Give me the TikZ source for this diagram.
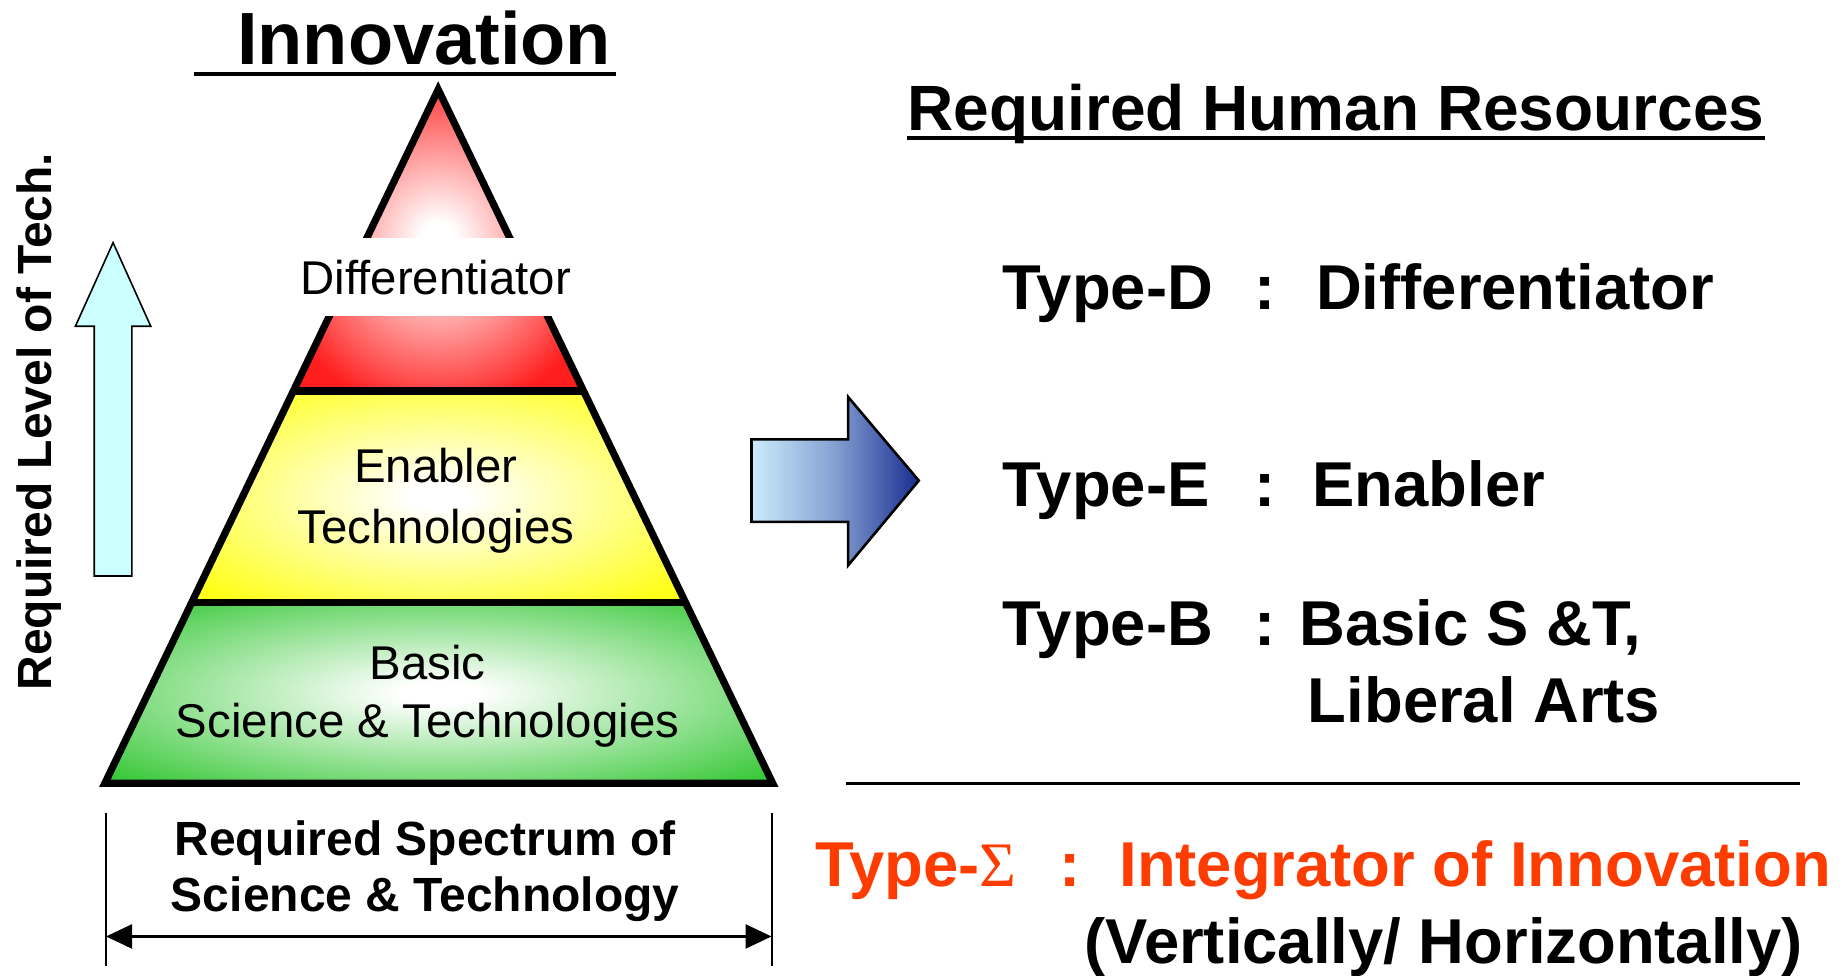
\documentclass[tikz,border=0pt]{standalone}
\usepackage{fontspec}
\setmainfont{Liberation Sans}
\newfontfamily\sigmafont{Liberation Serif}
\usetikzlibrary{arrows.meta,calc}

\definecolor{layerred}{RGB}{255,30,30}
\definecolor{layeryellow}{RGB}{255,255,25}
\definecolor{layergreen}{RGB}{55,200,55}
\definecolor{riseblue}{RGB}{204,255,255}
\definecolor{pushlight}{RGB}{204,236,252}
\definecolor{pushdark}{RGB}{25,45,145}
\definecolor{sigmared}{RGB}{255,60,0}

\pgfdeclareradialshading{redglow}{\pgfpoint{0bp}{0bp}}{color(0bp)=(white); color(3bp)=(white); color(29bp)=(layerred); color(50bp)=(layerred)}
\pgfdeclareradialshading{yellowglow}{\pgfpoint{0bp}{0bp}}{color(0bp)=(white); color(3bp)=(white); color(32bp)=(layeryellow); color(50bp)=(layeryellow)}
\pgfdeclareradialshading{greenglow}{\pgfpoint{0bp}{0bp}}{color(0bp)=(white); color(3bp)=(white); color(34bp)=(layergreen); color(50bp)=(layergreen)}

\tikzset{
	outline/.style={line width=3.6pt},
	layertext/.style={font=\fontsize{23.7}{28}\selectfont, anchor=base, inner sep=0pt},
	heavytext/.style={font=\fontsize{24}{28}\selectfont\bfseries, anchor=base, inner sep=0pt},
	typetext/.style={font=\fontsize{31.7}{38}\selectfont\bfseries, anchor=base west, inner sep=0pt}
}

\begin{document}
\begin{tikzpicture}[x=0.589pt,y=-0.589pt]
		\useasboundingbox (0,0) rectangle (1568,828);
		% pyramid
		\coordinate (apex) at (372,76);
		\coordinate (bl) at (89,665);
		\coordinate (br) at (656,665);
		\coordinate (rl) at ($(apex)!0.4346!(bl)$);
		\coordinate (rr) at ($(apex)!0.4346!(br)$);
		\coordinate (yl) at ($(apex)!0.7394!(bl)$);
		\coordinate (yr) at ($(apex)!0.7394!(br)$);
		\shade[shading=redglow] (apex) -- (rr) -- (rl) -- cycle;
		\shade[shading=yellowglow] (rl) -- (rr) -- (yr) -- (yl) -- cycle;
		\shade[shading=greenglow] (yl) -- (yr) -- (br) -- (bl) -- cycle;
		\draw[outline] (apex) -- (br) -- (bl) -- cycle;
		\draw[outline] (rl) -- (rr);
		\draw[outline] (yl) -- (yr);
		\node[fill=white, inner sep=0pt, minimum width=147pt, minimum height=39pt] (band) at (370,235) {};
		\node[layertext] (differentiator) at (370,250) {Differentiator};
		\node[layertext] (enabler) at (370,410) {Enabler};
		\node[layertext] (enablertech) at (370,461) {Technologies};
		\node[layertext] (basic) at (363,577) {Basic};
		\node[layertext] (basicsci) at (363,626) {Science \& Technologies};
		% title
		\node[font=\fontsize{37}{44}\selectfont\bfseries, anchor=base, inner sep=0pt] (innovation) at (360,55) {Innovation};
		\draw[line width=2pt] ($(innovation.base west)+(-36,8)$) -- ($(innovation.base east)+(4,8)$);
		% level of tech
		\draw[line width=0.8pt, fill=riseblue] (80,489) -- (80,277) -- (64,277) -- (96,206) -- (128,277) -- (112,277) -- (112,489) -- cycle;
		\node[heavytext, rotate=90] (levellabel) at (44,358) {Required Level of Tech.};
		% spectrum
		\coordinate (specl) at (90,795);
		\coordinate (specr) at (655,795);
		\draw[line width=1pt] (90,690) -- (90,820);
		\draw[line width=1pt] (655,690) -- (655,820);
		\draw[line width=1.2pt, {Triangle[length=13pt,width=12pt]}-{Triangle[length=13pt,width=12pt]}] (specl) -- (specr);
		\node[heavytext] (spectrum) at (361,726) {Required Spectrum of};
		\node[heavytext] (spectrumsci) at (361,774) {Science \& Technology};
		% big arrow
		\shade[left color=pushlight, right color=pushdark, middle color=pushlight!60!pushdark, draw=black, line width=1.3pt] (638,373) -- (720,373) -- (720,337) -- (780,408) -- (720,480) -- (720,443) -- (638,443) -- cycle;
		% human resources
		\node[font=\fontsize{32}{38}\selectfont\bfseries, anchor=base west, inner sep=0pt] (hrtitle) at (770,111) {Required Human Resources};
		\draw[line width=1.8pt] ($(hrtitle.base west)+(0,6)$) -- ($(hrtitle.base east)+(0,6)$);
		\foreach \kind/\role/\rx/\y in {D/Differentiator/1117/263, E/Enabler/1114/430, B/{Basic S \&T,}/1103/548} {
			\node[typetext] (type\kind) at (851,\y) {Type-\kind};
			\node[typetext, anchor=base] (colon\kind) at (1074,\y) {:};
			\node[typetext] (role\kind) at (\rx,\y) {\role};
		}
		\node[typetext] (liberal) at (1110,613) {Liberal Arts};
		\draw[line width=1.3pt] (718,665) -- (1528,665);
		\node[typetext, text=sigmared] (sigmatype) at (692,753) {Type-{\sigmafont\mdseries Σ}};
		\node[typetext, text=sigmared, anchor=base] (sigmacolon) at (908,753) {:};
		\node[typetext, text=sigmared] (sigmarole) at (950,753) {Integrator of Innovation};
		\node[typetext] (sigmaway) at (920,818) {(Vertically/ Horizontally)};
	\end{tikzpicture}
\end{document}
